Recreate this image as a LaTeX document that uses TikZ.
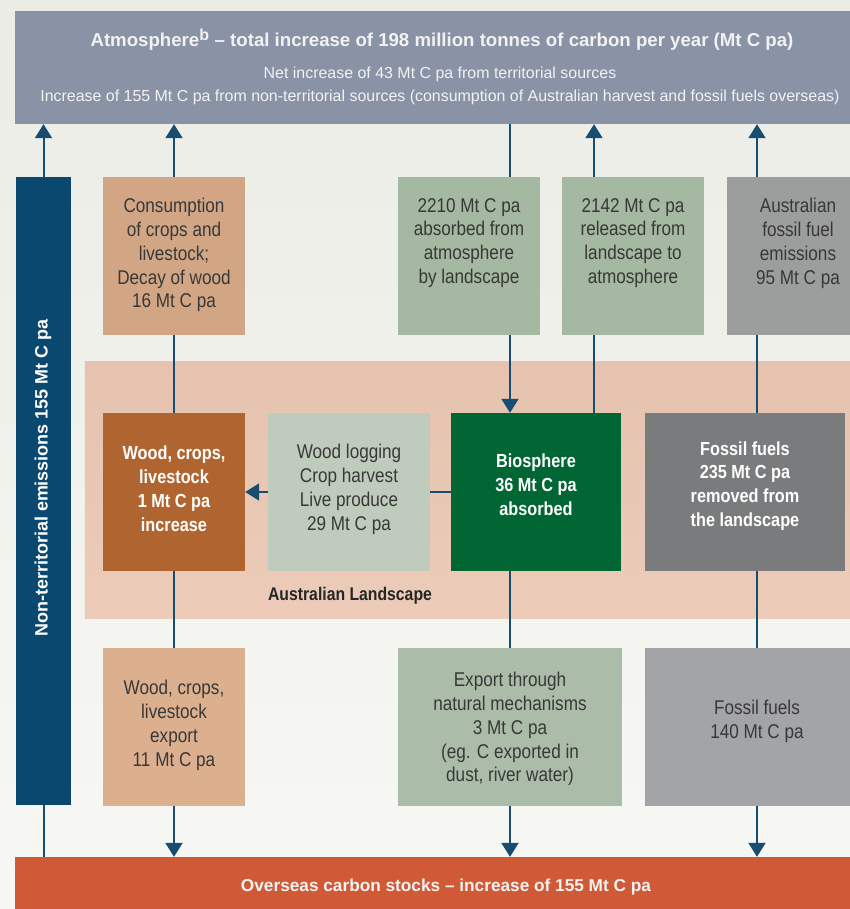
\documentclass[tikz,border=0pt]{standalone}
\usepackage{fontspec}
\setmainfont{Liberation Sans}[FakeStretch=0.86]
\newfontfamily\widefont{Liberation Sans}[Ligatures=TeX]
\usetikzlibrary{arrows.meta}
\definecolor{bgtop}{HTML}{ECECE6}
\definecolor{bgbot}{HTML}{F7F7F4}
\definecolor{atmc}{HTML}{8A93A6}
\definecolor{barc}{HTML}{0B4870}
\definecolor{arrc}{HTML}{174D70}
\definecolor{consc}{HTML}{D2A684}
\definecolor{greenl}{HTML}{A5B8A1}
\definecolor{greyl}{HTML}{9C9D9D}
\definecolor{pinktop}{HTML}{E5C3AF}
\definecolor{pinkbot}{HTML}{ECCBB8}
\definecolor{woodc}{HTML}{B06530}
\definecolor{logc}{HTML}{BFCBBC}
\definecolor{bioc}{HTML}{006633}
\definecolor{fossc}{HTML}{7A7B7C}
\definecolor{wexpc}{HTML}{DCAF8E}
\definecolor{nexpc}{HTML}{ABBDA9}
\definecolor{f140c}{HTML}{A3A4A7}
\definecolor{overc}{HTML}{D05A36}
\definecolor{darktxt}{HTML}{383838}
\definecolor{lighttxt}{HTML}{F2F2F2}
\tikzset{
  boxnode/.style={draw=none, inner sep=0pt, minimum width=#1},
  boxnode/.default=142bp,
  txt/.style={align=center, inner sep=0pt, text=darktxt, font=\fontsize{20}{24}\selectfont},
  wtxt/.style={align=center, inner sep=0pt, text=white, font=\fontsize{19}{24}\selectfont\bfseries},
  flow/.style={draw=arrc, line width=2bp},
  flowarrow/.style={flow, -{Triangle[width=17bp,length=14bp]}},
}
\begin{document}
\begin{tikzpicture}[x=1bp,y=-1bp]
\clip (0,0) rectangle (850,909);
\shade[top color=bgtop, bottom color=bgbot] (0,0) rectangle (850,909);
% named columns
\coordinate (colB) at (510,0);
\coordinate (colC) at (594,0);
\coordinate (colF) at (757,0);
% boxes
\node[boxnode=855bp, minimum height=113bp, fill=atmc] (atm) at (442.5,67.5) {};
\node[boxnode=55bp, minimum height=628bp, fill=barc] (bar) at (43.5,491) {};
\node[boxnode, minimum height=158bp, fill=consc] (cons) at (174,256) {};
\node[boxnode, minimum height=158bp, fill=greenl] (b2210) at (469,256) {};
\node[boxnode, minimum height=158bp, fill=greenl] (b2142) at (633,256) {};
\node[boxnode, minimum height=158bp, fill=greyl] (emis) at (798,256) {};
\node[boxnode=785bp, minimum height=257bp, top color=pinktop, bottom color=pinkbot] (land) at (477.5,489.5) {};
\node[boxnode, minimum height=158bp, fill=woodc] (wood) at (174,492) {};
\node[boxnode=162bp, minimum height=158bp, fill=logc] (logging) at (349,492) {};
\node[boxnode=170bp, minimum height=158bp, fill=bioc] (bio) at (536,492) {};
\node[boxnode=200bp, minimum height=158bp, fill=fossc] (fossil) at (745,492) {};
\node[boxnode, minimum height=158bp, fill=wexpc] (wexp) at (174,727) {};
\node[boxnode=224bp, minimum height=158bp, fill=nexpc] (nexp) at (510,727) {};
\node[boxnode=224bp, minimum height=158bp, fill=f140c] (f140) at (757,727) {};
\node[boxnode=855bp, minimum height=56bp, fill=overc] (over) at (442.5,885) {};
% texts
\node[inner sep=0pt, text=lighttxt, font=\widefont\fontsize{18.7}{22}\selectfont\bfseries] (atmtitle) at (442,40) {Atmosphere\textsuperscript{\fontsize{16}{16}\selectfont b} – total increase of 198 million tonnes of carbon per year (Mt C pa)};
\node[inner sep=0pt, align=center, text=lighttxt, font=\widefont\fontsize{16}{23}\selectfont] (atmsub) at (440,85.5) {Net increase of 43 Mt C pa from territorial sources\\Increase of 155 Mt C pa from non-territorial sources (consumption of Australian harvest and fossil fuels overseas)};
\node[inner sep=0pt, text=white, rotate=90, font=\widefont\fontsize{18}{22}\selectfont\bfseries] (bartxt) at (43,478) {Non-territorial emissions 155 Mt C pa};
\node[txt] (constxt) at (174,255) {Consumption\\of crops and\\livestock;\\Decay of wood\\16 Mt C pa};
\node[txt] (t2210) at (469,243) {2210 Mt C pa\\absorbed from\\atmosphere\\by landscape};
\node[txt] (t2142) at (633,243) {2142 Mt C pa\\released from\\landscape to\\atmosphere};
\node[txt] (temis) at (798,243) {Australian\\fossil fuel\\emissions\\95 Mt C pa};
\node[wtxt] (twood) at (174,489) {Wood, crops,\\livestock\\1 Mt C pa\\increase};
\node[txt] (tlog) at (349,489) {Wood logging\\Crop harvest\\Live produce\\29 Mt C pa};
\node[wtxt] (tbio) at (536,485) {Biosphere\\36 Mt C pa\\absorbed};
\node[wtxt] (tfoss) at (745,486) {Fossil fuels\\235 Mt C pa\\removed from\\the landscape};
\node[inner sep=0pt, text=black!85, font=\fontsize{18.4}{22}\selectfont\bfseries] (tland) at (350,596) {Australian Landscape};
\node[txt] (twexp) at (174,725) {Wood, crops,\\livestock\\export\\11 Mt C pa};
\node[txt] (tnexp) at (510,729) {Export through\\natural mechanisms\\3 Mt C pa\\(eg. C exported in\\dust, river water)};
\node[txt] (tf140) at (757,721) {Fossil fuels\\140 Mt C pa};
\node[inner sep=0pt, text=lighttxt, font=\widefont\fontsize{17.3}{22}\selectfont\bfseries] (tover) at (446,887) {Overseas carbon stocks – increase of 155 Mt C pa};
% connectors
\draw[flowarrow] (bar.north) -- (bar.north |- atm.south);
\draw[flowarrow] (cons.north) -- (cons.north |- atm.south);
\draw[flow] (wood.north) -- (cons.south);
\draw[flow] (colB |- atm.south) -- (colB |- b2210.north);
\draw[flowarrow] (colB |- b2210.south) -- (colB |- bio.north);
\draw[flow] (colC |- bio.north) -- (colC |- b2142.south);
\draw[flowarrow] (colC |- b2142.north) -- (colC |- atm.south);
\draw[flow] (colF |- fossil.north) -- (colF |- emis.south);
\draw[flowarrow] (colF |- emis.north) -- (colF |- atm.south);
\draw[flow] (bio.west) -- (logging.east);
\draw[flowarrow] (logging.west) -- (wood.east);
\draw[flow] (wood.south) -- (wexp.north);
\draw[flowarrow] (wexp.south) -- (wexp.south |- over.north);
\draw[flow] (colB |- bio.south) -- (colB |- nexp.north);
\draw[flowarrow] (colB |- nexp.south) -- (colB |- over.north);
\draw[flow] (colF |- fossil.south) -- (colF |- f140.north);
\draw[flowarrow] (colF |- f140.south) -- (colF |- over.north);
\draw[flow] (bar.south) -- (bar.south |- over.north);
\end{tikzpicture}
\end{document}
